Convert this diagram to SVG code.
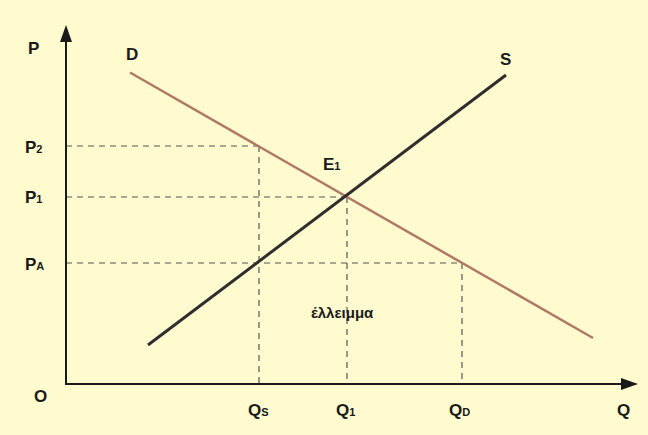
<svg xmlns="http://www.w3.org/2000/svg" width="648" height="435" viewBox="0 0 648 435">
<defs>
<style>
.lbl{font-family:"Liberation Sans",Arial,sans-serif;font-weight:bold;font-size:17px;fill:#1a1a1a}
.sub{font-size:11px}
.axis{stroke:#1a1a1a;stroke-width:2;fill:none}
.dash{stroke:#555;stroke-width:1.2;stroke-dasharray:6 5;fill:none}
.head{fill:#1a1a1a}
</style>
</defs>
<rect x="0" y="0" width="648" height="435" fill="#fffbcf"/>
<g id="connectors">
<path class="dash" d="M66,146 H259"/>
<path class="dash" d="M66,197 H347"/>
<path class="dash" d="M66,263 H462"/>
<path class="dash" d="M259,146 V384"/>
<path class="dash" d="M347,197 V384"/>
<path class="dash" d="M462,263 V384"/>
<line x1="66" y1="385" x2="66" y2="36" class="axis"/>
<path class="head" d="M66,25 l-6,17 h12 z"/>
<line x1="65" y1="384" x2="626" y2="384" class="axis"/>
<path class="head" d="M638,384 l-17,-6 v12 z"/>
<line id="demand" x1="130" y1="72.5" x2="593" y2="338" stroke="#b07966" stroke-width="2.5"/>
<line id="supply" x1="148" y1="345" x2="506" y2="75" stroke="#2e2e2e" stroke-width="3"/>
</g>
<g id="label-P"><text class="lbl" x="28" y="54">P</text></g>
<g id="label-D"><text class="lbl" x="126" y="60">D</text></g>
<g id="label-S"><text class="lbl" x="500" y="65">S</text></g>
<g id="label-E1"><text class="lbl" x="323" y="170">E<tspan class="sub">1</tspan></text></g>
<g id="label-P2"><text class="lbl" x="25" y="153">P<tspan class="sub">2</tspan></text></g>
<g id="label-P1"><text class="lbl" x="25" y="203">P<tspan class="sub">1</tspan></text></g>
<g id="label-PA"><text class="lbl" x="25" y="270">P<tspan class="sub">A</tspan></text></g>
<g id="label-O"><text class="lbl" x="34" y="402">O</text></g>
<g id="label-QS"><text class="lbl" x="248" y="416">Q<tspan class="sub">S</tspan></text></g>
<g id="label-Q1"><text class="lbl" x="336" y="416">Q<tspan class="sub">1</tspan></text></g>
<g id="label-QD"><text class="lbl" x="449" y="416">Q<tspan class="sub">D</tspan></text></g>
<g id="label-Q"><text class="lbl" x="617" y="416">Q</text></g>
<g id="label-deficit"><text class="lbl" x="311" y="318" style="font-size:15px">έλλειμμα</text></g>
</svg>
